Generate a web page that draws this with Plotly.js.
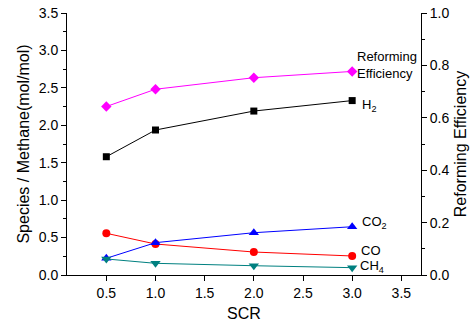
<!DOCTYPE html>
<html><head><meta charset="utf-8">
<script src="https://cdn.plot.ly/plotly-3.0.1.min.js"></script>
<style>html,body{margin:0;padding:0;background:#fff}#c{width:473px;height:327px}</style>
</head><body><div id="c"></div>
<script>
const scr = [0.5, 1.0, 2.0, 3.0];
const efficiency = [0.643, 0.709, 0.753, 0.777];
const h2 = [1.58, 1.937, 2.19, 2.33];
const co = [0.557, 0.414, 0.307, 0.254];
const co2 = [0.223, 0.432, 0.565, 0.645];
const ch4 = [0.214, 0.156, 0.124, 0.098];
const xTicks = [0.5, 1.0, 1.5, 2.0, 2.5, 3.0, 3.5];

function tr(y, color, symbol, size, axis) {
  return {x: scr, y: y, type: 'scatter', mode: 'lines+markers', yaxis: axis || 'y',
    line: {color: color, width: 1}, marker: {color: color, symbol: symbol, size: size}, showlegend: false, cliponaxis: false};
}
const data = [
  tr(h2, '#000000', 'square', 7),
  tr(co, '#ff0000', 'circle', 8),
  tr(co2, '#0000ff', 'triangle-up', 9),
  tr(ch4, '#008080', 'triangle-down', 9),
  tr(efficiency, '#ff00ff', 'diamond', 8, 'y2')
];
const font = {family: 'Liberation Sans, Arial, sans-serif', color: '#000'};
const tickfont = Object.assign({size: 14}, font);
const ann = (x, y, text, yref) => ({x: x, y: y, xref: 'x', yref: yref || 'y', text: text, showarrow: false,
  xanchor: 'left', yanchor: 'middle', align: 'left', borderpad: 0, font: Object.assign({size: 13}, font)});
const layout = {
  width: 473, height: 327,
  margin: {l: 67, r: 52, t: 13, b: 52},
  paper_bgcolor: '#fff', plot_bgcolor: '#fff',
  font: Object.assign({size: 14}, font),
  xaxis: {range: [0.1, 3.7], tickvals: xTicks, ticktext: xTicks.map(v => v.toFixed(1)), tickfont: tickfont,
    showgrid: false, zeroline: false, showline: true, linecolor: '#000', linewidth: 1,
    ticks: 'outside', ticklen: 5, tickcolor: '#000',
    title: {text: 'SCR', font: Object.assign({size: 16}, font), standoff: 8}},
  yaxis: {range: [0, 3.5], dtick: 0.5, tickformat: '.1f', tickfont: tickfont, showgrid: false, zeroline: false,
    showline: true, linecolor: '#000', linewidth: 1, ticks: 'outside', ticklen: 5, tickcolor: '#000',
    minor: {dtick: 0.25, ticks: 'outside', ticklen: 3, tickcolor: '#000'},
    title: {text: 'Species / Methane(mol/mol)', font: Object.assign({size: 16}, font), standoff: 5}},
  yaxis2: {range: [0, 1.0], dtick: 0.2, tickformat: '.1f', tickfont: tickfont, overlaying: 'y', side: 'right',
    showgrid: false, zeroline: false, showline: true, linecolor: '#000', linewidth: 1,
    ticks: 'outside', ticklen: 5, tickcolor: '#000',
    minor: {dtick: 0.1, ticks: 'outside', ticklen: 3, tickcolor: '#000'},
    title: {text: 'Reforming Efficiency', font: Object.assign({size: 16}, font), standoff: 6}},
  annotations: [
    ann(3.04, 0.80, 'Reforming<br>Efficiency', 'y2'),
    ann(3.09, 2.27, 'H<sub>2</sub>'),
    ann(3.09, 0.70, 'CO<sub>2</sub>'),
    ann(3.08, 0.334, 'CO'),
    ann(3.07, 0.111, 'CH<sub>4</sub>')
  ]
};
Plotly.newPlot('c', data, layout, {displayModeBar: false, staticPlot: true});
</script></body></html>
